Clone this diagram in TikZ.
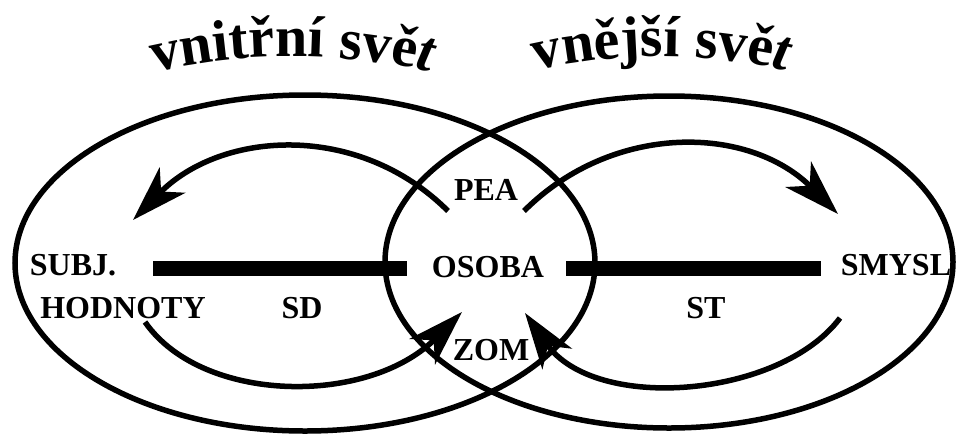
\documentclass[tikz,border=0pt]{standalone}
\usepackage{fontspec}
\setmainfont{Liberation Serif}
\usetikzlibrary{arrows.meta,decorations.text}
\newcommand\ttlfont{\fontsize{58pt}{62pt}\selectfont\bfseries}
\newcommand\ttlfontit{\fontsize{58pt}{62pt}\selectfont\bfseries\itshape}
\tikzset{
  ring/.style={line width=5.5pt},
  bar/.style={line width=15pt, line cap=butt},
  flow/.style={line width=5.5pt, -{Stealth[length=56pt,width=36pt,inset=16pt]}},
  lbl/.style={font=\fontsize{32pt}{36pt}\selectfont\bfseries, inner sep=0pt, anchor=base},
}
\begin{document}
\begin{tikzpicture}[x=1pt,y=-1pt]
\useasboundingbox (0,0) rectangle (961,437);
\fill[white] (0,0) rectangle (961,437);
% ellipses
\draw[ring] (305,263) ellipse [x radius=290pt, y radius=168pt];
\draw[ring] (669,262) ellipse [x radius=284pt, y radius=166pt];
% titles
\path[decorate, decoration={text along path, text align=center,
  text={|\ttlfont|vnitřní svě|\ttlfontit|t}}]
  (140,76) .. controls (235,50) and (350,50) .. (445,76);
\path[decorate, decoration={text along path, text align=center,
  text={|\ttlfont|vnější svě|\ttlfontit|t}}]
  (516,76) .. controls (607,50) and (715,50) .. (806,76);
% labels
\node[lbl] (subj) at (73,275) {SUBJ.};
\node[lbl] (hodn) at (123,318) {HODNOTY};
\node[lbl] (sd) at (302,318) {SD};
\node[lbl] (osoba) at (488,277) {OSOBA};
\node[lbl] (pea) at (486,200) {PEA};
\node[lbl] (zom) at (491,360) {ZOM};
\node[lbl] (st) at (706,318) {ST};
\node[lbl] (smysl) at (896,275) {SMYSL};
% bars
\coordinate (b1s) at (153,268); \coordinate (b1e) at (407,268);
\coordinate (b2s) at (566,268); \coordinate (b2e) at (821,268);
\draw[bar] (b1s) -- (b1e);
\draw[bar] (b2s) -- (b2e);
% arrows
\coordinate (tl0) at (448,211); \coordinate (tl1) at (133,220);
\coordinate (tr0) at (524,211); \coordinate (tr1) at (838,214);
\coordinate (bl0) at (145,322); \coordinate (bl1) at (462,312);
\coordinate (br0) at (840,318); \coordinate (br1) at (525,313);
\draw[flow] (tl0) .. controls (359,122) and (222,130) .. (tl1);
\draw[flow] (tr0) .. controls (613,122) and (749,125) .. (tr1);
\draw[flow] (bl0) .. controls (202,404) and (368,406) .. (bl1);
\draw[flow] (br0) .. controls (780,398) and (595,413) .. (br1);
\end{tikzpicture}
\end{document}
